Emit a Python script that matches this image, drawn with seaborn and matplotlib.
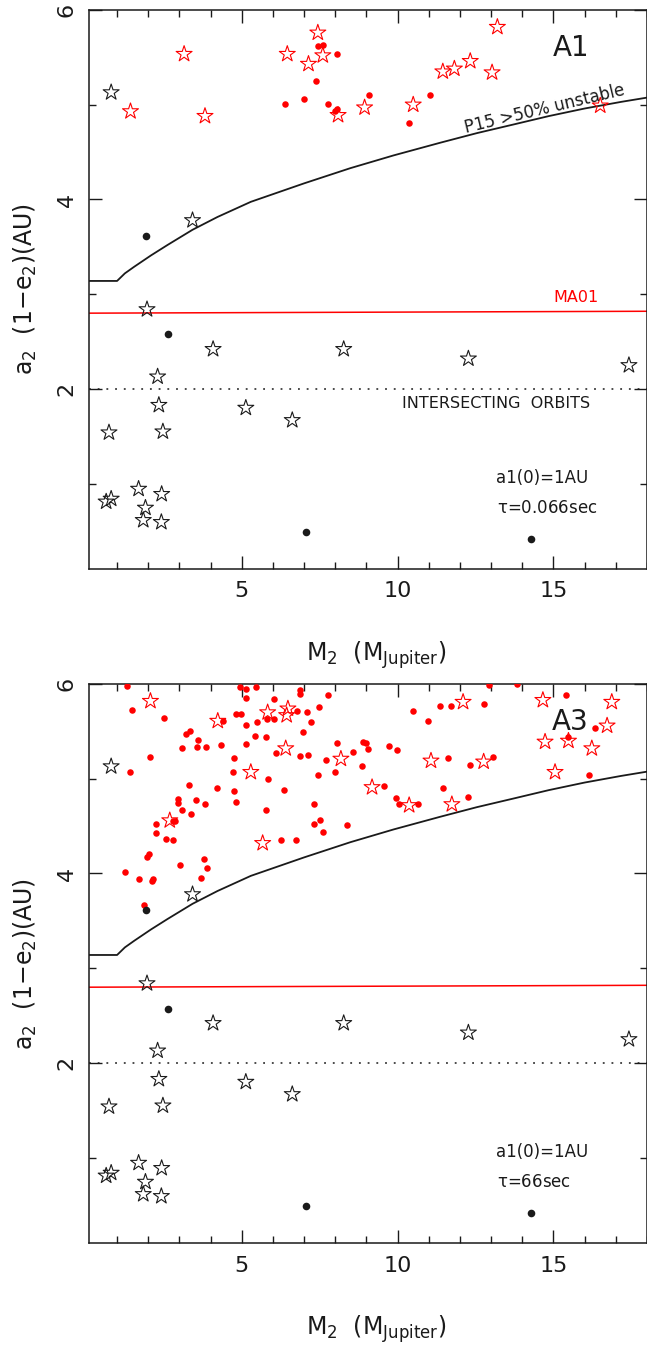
import matplotlib
matplotlib.use('Agg')
import matplotlib.pyplot as plt
from matplotlib.ticker import MultipleLocator
import seaborn as sns

# stability boundary (P15 >50% unstable)
curve_m = [0.1, 1.0, 1.25, 1.55, 2.09, 2.62, 3.42, 4.22, 5.29, 7.0, 8.48,
           9.87, 11.38, 12.54, 13.70, 14.85, 16.0, 17.17, 18.0]
curve_a = [3.14, 3.14, 3.22, 3.29, 3.41, 3.52, 3.68, 3.815, 3.975, 4.17, 4.33,
           4.465, 4.60, 4.70, 4.79, 4.88, 4.96, 5.03, 5.075]

# MA01 limit
ma01_m = [0.1, 18.0]
ma01_a = [2.80, 2.82]

# observed planets (same in both panels)
obs_star_m = [0.81, 3.42, 1.96, 4.08, 8.27, 12.27, 17.42, 2.30, 2.34, 5.13,
              6.62, 0.74, 2.47, 1.69, 2.43, 0.81, 0.65, 1.91, 1.84, 2.42]
obs_star_a = [5.13, 3.78, 2.84, 2.42, 2.42, 2.32, 2.25, 2.13, 1.83, 1.80,
              1.67, 1.54, 1.55, 0.945, 0.89, 0.84, 0.81, 0.745, 0.615, 0.594]
obs_dot_m = [1.94, 2.63, 7.05, 14.29]
obs_dot_a = [3.61, 2.575, 0.49, 0.414]

# A1 run
a1_star_m = [1.43, 3.15, 3.82, 6.46, 7.14, 7.44, 7.6, 8.09, 8.94, 10.5,
             11.45, 11.82, 12.33, 13.03, 13.2, 16.5]
a1_star_a = [4.93, 5.535, 4.88, 5.535, 5.43, 5.76, 5.52, 4.89, 4.97, 5.0,
             5.35, 5.38, 5.46, 5.34, 5.82, 4.99]
a1_dot_m = [7.45, 7.62, 8.04, 7.39, 6.39, 7.0, 7.76, 8.04, 7.99, 9.08, 10.37, 11.05]
a1_dot_a = [5.62, 5.63, 5.54, 5.25, 5.01, 5.06, 5.01, 4.96, 4.93, 5.10, 4.81, 5.10]

# A3 run
a3_star_m = [2.07, 4.23, 5.83, 6.48, 6.44, 6.41, 5.29, 8.18, 9.18, 10.37, 11.07,
             11.74, 12.10, 12.76, 14.66, 14.73, 15.48, 15.05, 16.23, 16.72,
             16.87, 2.69, 5.67]
a3_star_a = [5.82, 5.61, 5.70, 5.74, 5.67, 5.32, 5.07, 5.21, 4.91, 4.72, 5.19,
             4.73, 5.81, 5.18, 5.83, 5.39, 5.40, 5.07, 5.32, 5.56,
             5.81, 4.56, 4.32]
a3_dot_m = [1.31, 1.48, 2.51, 2.07, 1.40, 3.22, 3.33, 3.08, 3.58, 3.56,
            3.85, 4.32, 4.41, 4.80, 4.98, 4.93, 5.12, 5.12, 5.46, 5.12,
            5.13, 5.48, 5.44, 5.78, 5.82, 6.05, 6.04, 6.10, 6.78, 6.87,
            6.88, 7.10, 7.21, 6.95, 6.87, 7.11, 7.47, 7.77, 8.06, 7.70,
            7.98, 7.44, 8.58, 8.88, 8.98, 9.04, 8.86, 9.72, 9.99, 9.56,
            9.95, 10.05, 10.66, 10.50, 10.97, 11.37, 11.72, 12.76, 12.92, 13.82,
            11.60, 12.31, 13.06, 11.46, 12.25, 15.39, 15.48, 16.34, 16.13, 4.19,
            4.73, 4.74, 4.74, 4.82, 5.83, 6.36, 5.77, 6.26, 6.74, 7.32,
            7.50, 7.32, 7.60, 8.38, 3.32, 3.53, 3.82, 3.37, 2.97, 2.94,
            3.07, 2.78, 2.87, 2.26, 2.25, 2.56, 2.79, 2.01, 1.97, 3.03,
            3.79, 3.90, 3.70, 1.27, 1.69, 2.14, 2.12, 1.86]
a3_dot_a = [5.98, 5.73, 5.64, 5.23, 5.07, 5.47, 5.50, 5.32, 5.41, 5.34,
            5.34, 5.36, 5.61, 5.68, 5.68, 5.97, 5.95, 5.85, 5.97, 5.57,
            5.37, 5.60, 5.45, 5.44, 5.63, 5.63, 5.84, 5.27, 5.71, 5.89,
            5.94, 5.70, 5.60, 5.49, 5.24, 5.25, 5.76, 5.88, 5.38, 5.20,
            5.07, 5.04, 5.28, 5.39, 5.38, 5.31, 5.13, 5.35, 5.30, 4.92,
            4.80, 4.73, 4.73, 5.71, 5.61, 5.77, 5.77, 5.79, 5.99, 6.0,
            5.22, 5.15, 5.23, 4.90, 4.81, 5.88, 5.44, 5.54, 5.04, 4.90,
            5.07, 5.22, 4.87, 4.75, 5.00, 4.88, 4.67, 4.35, 4.35, 4.73,
            4.56, 4.52, 4.44, 4.51, 4.93, 4.78, 4.73, 4.63, 4.79, 4.74,
            4.67, 4.55, 4.55, 4.52, 4.43, 4.36, 4.35, 4.21, 4.17, 4.09,
            4.15, 4.06, 3.95, 4.02, 3.94, 3.94, 3.92, 3.67]

RED = '#ff0000'


def draw_panel(ax, star_m, star_a, dot_m, dot_a, name, tau, notes):
    """One A-run panel with the observed planets and stability limits"""
    sns.lineplot(x=curve_m, y=curve_a, ax=ax, color='k', lw=1.3,
                 sort=False, estimator=None)
    sns.lineplot(x=ma01_m, y=ma01_a, ax=ax, color=RED, lw=1.1,
                 sort=False, estimator=None)
    ax.axhline(2.0, color='k', lw=1.1, ls=(0, (1.2, 4.5)))

    # simulated planets
    sns.scatterplot(x=dot_m, y=dot_a, ax=ax, color=RED, s=22,
                    edgecolor=RED, linewidth=0, zorder=3)
    sns.scatterplot(x=star_m, y=star_a, ax=ax, marker='*', s=145,
                    facecolor='none', edgecolor=RED, linewidth=0.8, zorder=3)
    # observed planets
    sns.scatterplot(x=obs_dot_m, y=obs_dot_a, ax=ax, color='k', s=30,
                    edgecolor='k', linewidth=0, zorder=4)
    sns.scatterplot(x=obs_star_m, y=obs_star_a, ax=ax, marker='*', s=145,
                    facecolor='none', edgecolor='k', linewidth=0.8, zorder=4)

    ax.set_xlim(0.1, 18)
    ax.set_ylim(0.1, 6)
    ax.xaxis.set_major_locator(MultipleLocator(5))
    ax.xaxis.set_minor_locator(MultipleLocator(1))
    ax.yaxis.set_major_locator(MultipleLocator(2))
    ax.yaxis.set_minor_locator(MultipleLocator(1))
    ax.tick_params(which='both', direction='in', top=True, right=True,
                   width=1.0, labelsize=16, color='k', labelcolor='k')
    ax.tick_params(which='major', length=9.5)
    ax.tick_params(which='minor', length=4.8)
    ax.tick_params(axis='x', pad=9)
    ax.tick_params(axis='y', pad=9, labelrotation=90)
    for lab in ax.get_yticklabels():
        lab.set_va('center')
    for sp in ax.spines.values():
        sp.set_linewidth(1.1)
        sp.set_color('k')

    ax.set_xlabel(r'M$_2$  (M$_{\rm Jupiter}$)', fontsize=17, color='k')
    ax.set_ylabel(r'a$_2$  (1$-$e$_2$)(AU)', fontsize=17, color='k')
    ax.xaxis.set_label_coords(0.515, -0.126)
    ax.yaxis.set_label_coords(-0.09, 0.5)

    ax.text(15.55, 5.60, name, fontsize=20, ha='center', va='center', color='k')
    ax.text(13.15, 1.06, 'a1(0)=1AU', fontsize=12, ha='left', va='center',
            color='k')
    ax.text(13.2, 0.745, r'$\tau$=' + tau, fontsize=12, ha='left', va='center',
            color='k')
    if notes:
        ax.text(14.72, 4.96, 'P15 >50% unstable', fontsize=12, rotation=13.5,
                ha='center', va='center', color='k')
        ax.text(15.72, 2.96, 'MA01', fontsize=11.5, color=RED,
                ha='center', va='center')
        ax.text(13.15, 1.85, 'INTERSECTING  ORBITS', fontsize=11.5,
                ha='center', va='center', color='k')


def main():
    sns.set_theme(style='ticks')
    plt.rcParams['font.family'] = ['DejaVu Sans']
    plt.rcParams['mathtext.default'] = 'regular'
    plt.rcParams['text.color'] = 'k'
    plt.rcParams['axes.labelcolor'] = 'k'

    fig = plt.figure(figsize=(6.47, 13.47), dpi=100)
    ax_top = fig.add_axes([0.1376, 0.5776, 0.8624, 0.4150])
    ax_bot = fig.add_axes([0.1376, 0.0772, 0.8624, 0.4150])

    draw_panel(ax_top, a1_star_m, a1_star_a, a1_dot_m, a1_dot_a,
               'A1', '0.066sec', True)
    draw_panel(ax_bot, a3_star_m, a3_star_a, a3_dot_m, a3_dot_a,
               'A3', '66sec', False)

    fig.savefig('out.png', dpi=100, facecolor='white')
    plt.close(fig)


if __name__ == '__main__':
    main()
